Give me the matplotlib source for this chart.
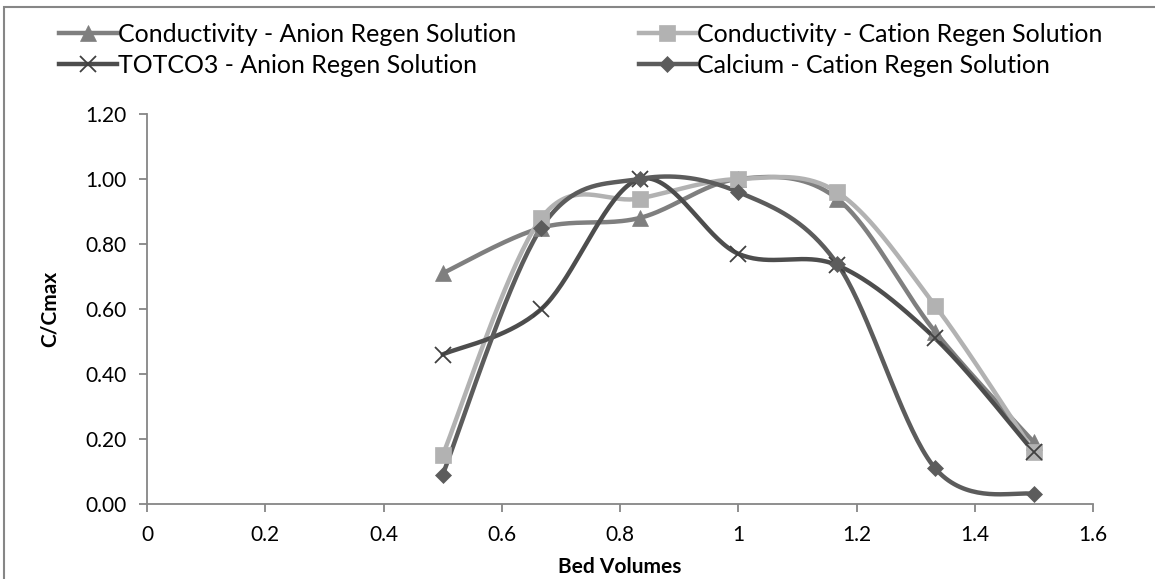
import numpy as np
import matplotlib
matplotlib.use("Agg")
from matplotlib import pyplot as plt
from matplotlib.patches import Rectangle

plt.rcParams['font.family'] = ['Lato', 'DejaVu Sans']

# Bed volumes sampled
bed_volumes = [0.5, 0.667, 0.833, 1.0, 1.167, 1.333, 1.5]

# C/Cmax for each series
cond_anion = [0.71, 0.85, 0.88, 1.00, 0.94, 0.53, 0.19]
cond_cation = [0.15, 0.88, 0.94, 1.00, 0.96, 0.61, 0.16]
totco3_anion = [0.46, 0.60, 1.00, 0.77, 0.735, 0.51, 0.16]
calcium_cation = [0.09, 0.85, 1.00, 0.96, 0.74, 0.11, 0.03]

x_ticks = [0, 0.2, 0.4, 0.6, 0.8, 1.0, 1.2, 1.4, 1.6]
x_labels = ["0", "0.2", "0.4", "0.6", "0.8", "1", "1.2", "1.4", "1.6"]
y_ticks = [0.0, 0.2, 0.4, 0.6, 0.8, 1.0, 1.2]
y_labels = ["%.2f" % v for v in y_ticks]


def smooth(xs, ys, n=40):
    # spreadsheet-style smoothed line: cubic bezier through every point
    p = np.column_stack([xs, ys]).astype(float)
    ext = np.vstack([p[0], p, p[-1]])
    t = np.linspace(0, 1, n)[:, None]
    out = []
    for i in range(len(p) - 1):
        p0, p1 = ext[i + 1], ext[i + 2]
        c1 = p0 + (ext[i + 2] - ext[i]) / 6.0
        c2 = p1 - (ext[i + 3] - ext[i + 1]) / 6.0
        seg = ((1 - t) ** 3) * p0 + 3 * ((1 - t) ** 2) * t * c1 + 3 * (1 - t) * t ** 2 * c2 + t ** 3 * p1
        out.append(seg if i == 0 else seg[1:])
    out = np.vstack(out)
    return out[:, 0], out[:, 1]


fig = plt.figure(figsize=(11.55, 5.79), dpi=100)
ax = fig.add_axes([147 / 1155, 75 / 579, (1093 - 147) / 1155, (504 - 114) / 579])

# chart area border
fig.patches.append(Rectangle((4 / 1155, -0.05), 1.1, (1 - 7 / 579) + 0.05,
                             transform=fig.transFigure, fill=False,
                             edgecolor="#868686", linewidth=1.5))

series = [
    ("Conductivity - Anion Regen Solution", cond_anion, "#7f7f7f", "^", 12),
    ("Conductivity - Cation Regen Solution", cond_cation, "#b2b2b2", "s", 11),
    ("TOTCO3 - Anion Regen Solution", totco3_anion, "#4d4d4d", "x", 11),
    ("Calcium - Cation Regen Solution", calcium_cation, "#5c5c5c", "D", 8.5),
]

handles = []
for label, ys, color, marker, ms in series:
    sx, sy = smooth(bed_volumes, ys)
    ax.plot(sx, sy, color=color, linewidth=3.2, solid_capstyle="round", zorder=2)
    mec = "#404040" if marker == "x" else color
    mew = 1.3 if marker == "x" else 0.5
    ax.plot(bed_volumes, ys, linestyle="none", marker=marker, markersize=ms,
            color=color, markeredgecolor=mec, markeredgewidth=mew, zorder=3)
    h, = ax.plot([], [], color=color, linewidth=3.2, marker=marker, markersize=ms,
                 markeredgecolor=mec, markeredgewidth=mew, label=label)
    handles.append(h)

ax.set_xlim(0, 1.6)
ax.set_ylim(0, 1.2)
ax.set_xticks(x_ticks)
ax.set_xticklabels(x_labels)
ax.set_yticks(y_ticks)
ax.set_yticklabels(y_labels)
ax.tick_params(axis="both", direction="out", length=6, width=1.3, color="#868686",
               labelsize=15, pad=9)
for side in ("top", "right"):
    ax.spines[side].set_visible(False)
for side in ("left", "bottom"):
    ax.spines[side].set_color("#868686")
    ax.spines[side].set_linewidth(1.3)

ax.set_xlabel("Bed Volumes", fontsize=15, fontweight="bold", labelpad=9)
ax.set_ylabel("C/Cmax", fontsize=15, fontweight="bold", labelpad=18)

order = [handles[0], handles[2], handles[1], handles[3]]
fig.legend(order, [h.get_label() for h in order], ncol=2, frameon=False,
           loc="upper left", bbox_to_anchor=(49 / 1155, 1 - 13 / 579),
           fontsize=18, handlelength=2.3, handletextpad=0.05,
           columnspacing=4.9, labelspacing=0.32, borderaxespad=0)

fig.savefig("out.png", dpi=100)
